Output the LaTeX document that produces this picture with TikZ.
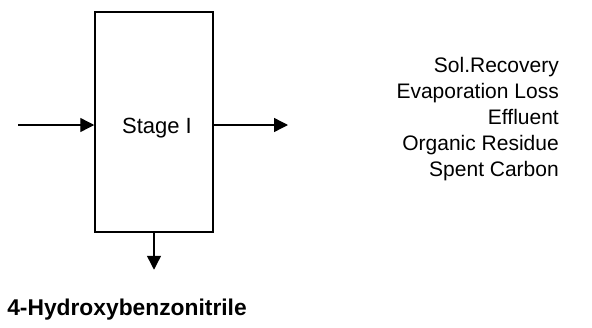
\documentclass[tikz,border=0pt]{standalone}
\usepackage{fontspec}
\setmainfont{Liberation Sans}
\usetikzlibrary{arrows.meta}
\begin{document}
\begin{tikzpicture}[x=1pt,y=-1pt,
  flow/.style={line width=1.4pt,-{Triangle[length=14pt,width=14pt]}},
  outlabel/.style={anchor=base east,inner sep=0pt,font=\fontsize{21}{24}\selectfont}]
\useasboundingbox (0,0) rectangle (592,327);
% process block
\node[draw,line width=1.5pt,minimum width=118pt,minimum height=220pt,inner sep=0pt] (stage) at (154,122) {};
\node[anchor=base,inner sep=0pt,font=\fontsize{22}{26}\selectfont] (stagetext) at (157,133) {Stage I};
\coordinate (in) at (18,125);
\coordinate (out) at (288,125);
\draw[flow] (in) -- (in -| stage.west);
\draw[flow] (out -| stage.east) -- (out);
% product
\node[anchor=base,inner sep=0pt,font=\bfseries\fontsize{22.8}{26}\selectfont] (prod) at (127,315) {4-Hydroxybenzonitrile};
\draw[flow] (stage.south) -- ++(0,37);
% output streams
\node[outlabel] (s1) at (559,72) {Sol.Recovery};
\node[outlabel] (s2) at (559,98) {Evaporation Loss};
\node[outlabel] (s3) at (559,124) {Effluent};
\node[outlabel] (s4) at (559,150) {Organic Residue};
\node[outlabel] (s5) at (559,176) {Spent Carbon};
\end{tikzpicture}
\end{document}
